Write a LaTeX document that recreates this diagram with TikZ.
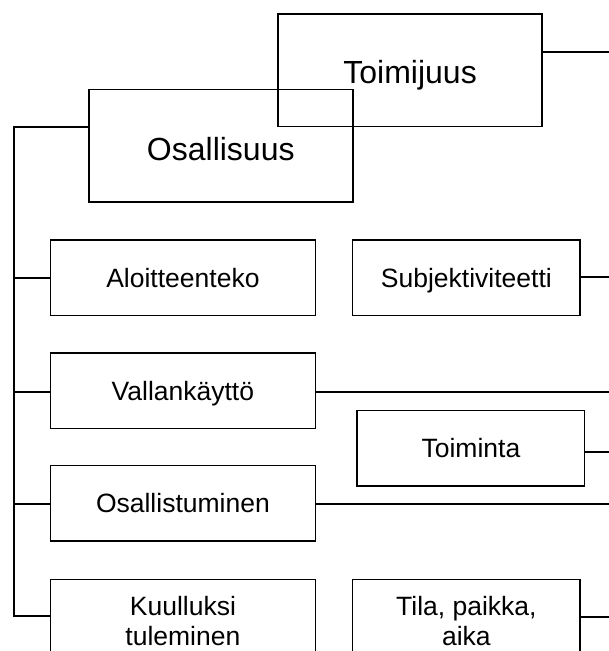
\documentclass[tikz,border=0pt]{standalone}
\usepackage{fontspec}
\setmainfont{Liberation Sans}
\begin{document}
\begin{tikzpicture}[x=1pt,y=-1pt,
  bigbox/.style={draw=black,line width=1.6pt,minimum width=264pt,minimum height=112.5pt,inner sep=0pt,font=\fontsize{32}{36}\selectfont,text depth=0pt},
  smallbox/.style={draw=black,line width=1.6pt,minimum width=264.8pt,minimum height=75.5pt,inner sep=0pt,font=\fontsize{26.5}{30}\selectfont,align=center,text height=19pt,text depth=0pt},
  narrowbox/.style={smallbox,minimum width=227.5pt},
  twoline/.style={minimum height=83.2pt,text height=49pt},
  conn/.style={line width=1.6pt,draw=black}]
\useasboundingbox (0,0) rectangle (609,651);
\clip (0,0) rectangle (609,651);
\node[bigbox,text height=25.9pt] (toim) at (410.1,70.2) {Toimijuus};
\node[bigbox,text height=28.9pt] (osal) at (220.8,145.7) {Osallisuus};
\node[smallbox] (aloi) at (182.9,277.9) {Aloitteenteko};
\node[narrowbox] (subj) at (466.4,277.9) {Subjektiviteetti};
\node[smallbox] (vall) at (182.9,390.8) {Vallankäyttö};
\node[narrowbox] (toimi) at (470.9,448.2) {Toiminta};
\node[smallbox] (osall) at (182.9,503.3) {Osallistuminen};
\node[smallbox,twoline] (kuul) at (182.9,620.9) {Kuulluksi\\tuleminen};
\node[narrowbox,twoline] (tila) at (466.4,620.9) {Tila, paikka,\\aika};
% free ends
\coordinate (e1) at (609,51.7);
\coordinate (e2) at (609,276.7);
\coordinate (e3) at (609,391.7);
\coordinate (e4) at (609,451.7);
\coordinate (e5) at (609,504);
\coordinate (e6) at (609,616.7);
\coordinate (ttop) at (14,126.7);
\coordinate (tbot) at (14,615.7);
% trunk
\draw[conn] (osal.west |- ttop) -- (ttop) -- (tbot) -- (kuul.west |- tbot);
\draw[conn] (ttop |- aloi.west) -- (aloi.west);
\draw[conn] (ttop |- e3) -- (vall.west |- e3);
\draw[conn] (ttop |- e5) -- (osall.west |- e5);
% right connectors
\draw[conn] (toim.east |- e1) -- (e1);
\draw[conn] (subj.east |- e2) -- (e2);
\draw[conn] (vall.east |- e3) -- (e3);
\draw[conn] (toimi.east |- e4) -- (e4);
\draw[conn] (osall.east |- e5) -- (e5);
\draw[conn] (tila.east |- e6) -- (e6);
\end{tikzpicture}
\end{document}
